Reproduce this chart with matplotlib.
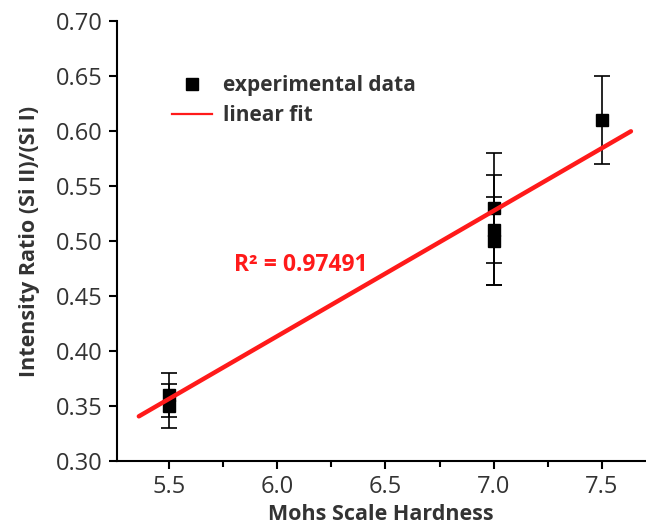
import matplotlib
matplotlib.use("Agg")
import matplotlib.pyplot as plt
import numpy as np
from matplotlib.ticker import MultipleLocator
from matplotlib.lines import Line2D

# Data
hardness = [5.5, 5.5, 7.0, 7.0, 7.0, 7.5]
ratio = [0.36, 0.35, 0.53, 0.51, 0.50, 0.61]
ratio_err = [0.02, 0.02, 0.05, 0.05, 0.04, 0.04]

# Linear fit (slope, intercept) and drawn range
fit_slope = 0.1139
fit_intercept = -0.2699
fit_range = [5.36, 7.635]
r2_text = "R\u00b2 = 0.97491"

xticks = [5.5, 6.0, 6.5, 7.0, 7.5]
yticks = [0.30, 0.35, 0.40, 0.45, 0.50, 0.55, 0.60, 0.65, 0.70]

plt.rcParams['font.family'] = ['Open Sans', 'DejaVu Sans']

W, H = 646, 526
fig = plt.figure(figsize=(W / 100, H / 100), dpi=100)
ax = fig.add_axes([117 / W, 1 - 461 / H, (645 - 117) / W, (461 - 21) / H])

ax.errorbar(hardness, ratio, yerr=ratio_err, fmt='none', ecolor='black',
            elinewidth=1.2, capsize=6, capthick=1.2, zorder=2)
ax.plot(hardness, ratio, 's', color='black', markersize=8.5, zorder=3)

fx = np.array(fit_range)
ax.plot(fx, fit_slope * fx + fit_intercept, color='#ff1a1a', lw=3.2,
        solid_capstyle='round', zorder=4)

ax.set_xlim(5.259, 7.70)
ax.set_ylim(0.30, 0.70)
ax.set_xticks(xticks)
ax.set_yticks(yticks)
ax.xaxis.set_minor_locator(MultipleLocator(0.25))
ax.set_xticklabels([f"{t:.1f}" for t in xticks])
ax.set_yticklabels([f"{t:.2f}" for t in yticks])

for s in ['top', 'right']:
    ax.spines[s].set_visible(False)
for s in ['left', 'bottom']:
    ax.spines[s].set_linewidth(1.5)
    ax.spines[s].set_color('black')

ax.tick_params(axis='both', which='major', direction='out', length=6, width=1.5,
               labelsize=17, labelcolor='#333333', pad=4)
ax.tick_params(axis='x', which='minor', direction='out', length=4, width=1.5)

ax.set_xlabel('Mohs Scale Hardness', fontsize=15.5, fontweight='bold',
              color='#333333', labelpad=4)
ax.set_ylabel('Intensity Ratio (Si II)/(Si I)', fontsize=15.5, fontweight='bold',
              color='#333333', labelpad=12)

ax.text(6.11, 0.478, r2_text, color='#ff1a1a', fontsize=16.5, fontweight='bold',
        ha='center', va='center')

handles = [
    Line2D([], [], marker='s', color='black', linestyle='none', markersize=8.5),
    Line2D([], [], color='#ff1a1a', lw=1.6),
]
leg = ax.legend(handles, ['experimental data', 'linear fit'],
                loc='upper left', bbox_to_anchor=(172 / W, 1 - 75 / H),
                bbox_transform=fig.transFigure, frameon=False,
                borderpad=0, borderaxespad=0,
                handlelength=1.93, handletextpad=0.5,
                labelspacing=0.45, prop={'weight': 'bold', 'size': 15})
for t in leg.get_texts():
    t.set_color('#333333')

fig.savefig('out.png', dpi=100)
